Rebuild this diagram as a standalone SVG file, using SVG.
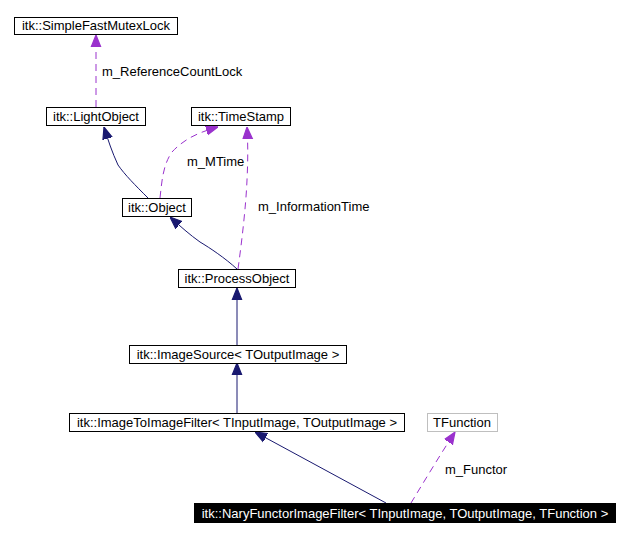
<svg xmlns="http://www.w3.org/2000/svg" width="629" height="537" viewBox="0 0 629 537">
<style>
text{font-family:"Liberation Sans",Arial,sans-serif;font-size:13px;fill:#000}
.box{fill:#fff;stroke:#000;stroke-width:1}
.gray{fill:#fff;stroke:#bfbfbf;stroke-width:1}
.inh{fill:none;stroke:#191970;stroke-width:1}
.use{fill:none;stroke:#9a32cd;stroke-width:1;stroke-dasharray:7,5}
.lbl{text-anchor:start}
.c{text-anchor:middle}
</style>
<defs>
<marker id="ah" viewBox="0 0 10 10" refX="10" refY="5" markerWidth="12" markerHeight="12" markerUnits="userSpaceOnUse" orient="auto">
<path d="M0,1 L10,5 L0,9 z" fill="#191970" stroke="#191970"/>
</marker>
<marker id="ap" viewBox="0 0 10 10" refX="10" refY="5" markerWidth="12" markerHeight="12" markerUnits="userSpaceOnUse" orient="auto">
<path d="M0,1 L10,5 L0,9 z" fill="#9a32cd" stroke="#9a32cd"/>
</marker>
</defs>
<g id="connectors">
<path class="use" d="M96,107 L96,35" marker-end="url(#ap)"/>
<text class="lbl" x="102" y="76">m_ReferenceCountLock</text>
<path class="inh" d="M148,198 C135,185 125,175 118,165 C112,152 108,140 104,127" marker-end="url(#ah)"/>
<path class="use" d="M160,198 C162,180 163,165 172,152 C185,138 200,132 218,127" marker-end="url(#ap)"/>
<text class="lbl" x="187" y="166">m_MTime</text>
<path class="inh" d="M237,269 C225,258 210,248 200,242 C190,235 180,226 170,217" marker-end="url(#ah)"/>
<path class="use" d="M238,269 C242,240 246,205 247,180 C248,160 248,145 247,127" marker-end="url(#ap)"/>
<text class="lbl" x="258" y="211">m_InformationTime</text>
<path class="inh" d="M237,346 L237,288" marker-end="url(#ah)"/>
<path class="inh" d="M237,413 L237,363" marker-end="url(#ah)"/>
<path class="inh" d="M386,503 L255,432" marker-end="url(#ah)"/>
<path class="use" d="M411,503 C425,480 440,455 455,432" marker-end="url(#ap)"/>
<text class="lbl" x="445" y="474">m_Functor</text>
</g>
<g id="node_SimpleFastMutexLock">
<rect class="box" x="14.5" y="17.5" width="163" height="17"/>
<text class="c" x="96" y="30">itk::SimpleFastMutexLock</text>
</g>
<g id="node_LightObject">
<rect class="box" x="46.5" y="107.5" width="99" height="18"/>
<text class="c" x="96" y="121">itk::LightObject</text>
</g>
<g id="node_TimeStamp">
<rect class="box" x="191.5" y="107.5" width="99" height="18"/>
<text class="c" x="241" y="121">itk::TimeStamp</text>
</g>
<g id="node_Object">
<rect class="box" x="122.5" y="198.5" width="69" height="18"/>
<text class="c" x="157" y="212">itk::Object</text>
</g>
<g id="node_ProcessObject">
<rect class="box" x="178.5" y="269.5" width="117" height="18"/>
<text class="c" x="237" y="283">itk::ProcessObject</text>
</g>
<g id="node_ImageSource">
<rect class="box" x="129.5" y="345.5" width="217" height="18"/>
<text class="c" x="238" y="359">itk::ImageSource&lt; TOutputImage &gt;</text>
</g>
<g id="node_ImageToImageFilter">
<rect class="box" x="69.5" y="413.5" width="335" height="18"/>
<text class="c" x="237" y="427">itk::ImageToImageFilter&lt; TInputImage, TOutputImage &gt;</text>
</g>
<g id="node_TFunction">
<rect class="gray" x="427.5" y="413.5" width="70" height="18"/>
<text class="c" x="462" y="427">TFunction</text>
</g>
<g id="node_NaryFunctorImageFilter">
<rect x="194" y="503" width="422" height="20" fill="#000"/>
<text class="c" x="405" y="518" style="fill:#fff">itk::NaryFunctorImageFilter&lt; TInputImage, TOutputImage, TFunction &gt;</text>
</g>
</svg>
